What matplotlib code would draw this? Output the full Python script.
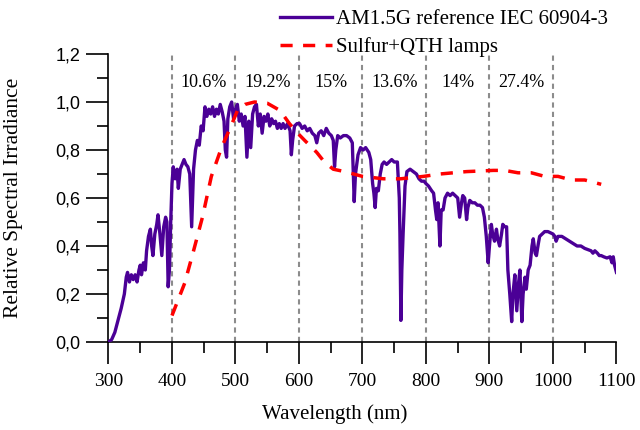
import matplotlib
matplotlib.use("Agg")
import matplotlib.pyplot as plt
from matplotlib.ticker import MultipleLocator, FuncFormatter

plt.rcParams['font.family'] = ['Liberation Serif', 'DejaVu Serif']

# AM1.5G reference spectrum (normalised)
am15_wl = [300, 305, 310, 315, 320, 325, 328, 330, 333, 336, 339, 342, 345, 348, 350,
           352, 355, 358, 360, 363, 366, 368, 370, 373, 376, 378, 381, 384, 387, 390,
           392, 394, 396, 398, 400, 402, 405, 408, 410, 413, 416, 419, 422, 425, 428,
           431, 434, 437, 440, 443, 446, 449, 452, 455, 458, 461, 464, 467, 470, 473,
           476, 479, 482, 484, 486, 488, 491, 494, 497, 500, 503, 506, 509, 512, 515,
           518, 521, 524, 527, 530, 533, 536, 539, 542, 545, 548, 551, 554, 557, 560,
           563, 566, 569, 572, 575, 578, 582, 586, 588, 590, 593, 597, 601, 605, 609,
           613, 617, 621, 625, 628, 631, 635, 639, 643, 647, 651, 654, 656, 658, 661,
           665, 670, 675, 680, 684, 687, 689, 693, 697, 701, 705, 710, 713, 716, 718,
           720, 722, 725, 728, 731, 734, 738, 742, 746, 750, 755, 758, 759, 760.5, 762,
           764, 767, 770, 775, 780, 785, 789, 793, 797, 800, 804, 809, 812, 815, 817,
           819, 822, 824, 827, 830, 834, 838, 842, 846, 850, 853, 856, 858, 861, 864,
           866, 869, 873, 877, 881, 885, 889, 892, 895, 898, 900, 903, 905, 908, 911,
           913, 916, 919, 921, 924, 927, 929, 932, 935, 937, 940, 943, 946, 948, 951,
           953, 956, 958, 961, 964, 967, 969, 972, 974, 977, 979, 983, 987, 992, 996,
           1000, 1003, 1005, 1008, 1014, 1020, 1026, 1032, 1038, 1044, 1050, 1055, 1060, 1063, 1066,
           1070, 1073, 1076, 1080, 1085, 1090, 1093, 1095, 1097, 1100]
am15_val = [0.0, 0.01, 0.04, 0.09, 0.14, 0.2, 0.27, 0.29, 0.25, 0.28, 0.26, 0.28, 0.25, 0.30, 0.32,
            0.28, 0.33, 0.30, 0.38, 0.44, 0.47, 0.40, 0.36, 0.45, 0.49, 0.53, 0.45, 0.36, 0.48, 0.52,
            0.50, 0.23, 0.30, 0.50, 0.66, 0.73, 0.68, 0.72, 0.64, 0.72, 0.74, 0.76, 0.74, 0.73, 0.70,
            0.48, 0.72, 0.80, 0.84, 0.82, 0.90, 0.88, 0.98, 0.94, 0.97, 0.95, 0.98, 0.94, 0.97, 0.95,
            0.99, 0.96, 0.92, 0.80, 0.77, 0.93, 0.98, 1.00, 0.93, 0.97, 0.99, 0.92, 0.95, 0.90, 0.94,
            0.77, 0.92, 0.81, 0.95, 0.98, 0.99, 0.90, 0.95, 0.87, 0.94, 0.92, 0.95, 0.90, 0.93, 0.91,
            0.92, 0.89, 0.91, 0.89, 0.91, 0.89, 0.91, 0.88, 0.78, 0.84, 0.90, 0.91, 0.91, 0.89, 0.90,
            0.88, 0.89, 0.87, 0.86, 0.83, 0.87, 0.88, 0.86, 0.89, 0.87, 0.86, 0.84, 0.73, 0.80, 0.86,
            0.85, 0.86, 0.86, 0.85, 0.83, 0.585, 0.70, 0.78, 0.81, 0.80, 0.81, 0.79, 0.76, 0.66, 0.62,
            0.56, 0.64, 0.63, 0.70, 0.74, 0.75, 0.74, 0.75, 0.76, 0.75, 0.75, 0.60, 0.45, 0.09, 0.30,
            0.45, 0.65, 0.71, 0.72, 0.71, 0.70, 0.68, 0.67, 0.67, 0.66, 0.65, 0.63, 0.62, 0.55, 0.51,
            0.58, 0.40, 0.55, 0.55, 0.60, 0.62, 0.61, 0.62, 0.61, 0.60, 0.52, 0.58, 0.61, 0.60, 0.51,
            0.56, 0.59, 0.58, 0.58, 0.57, 0.57, 0.56, 0.52, 0.44, 0.33, 0.40, 0.49, 0.45, 0.42, 0.47,
            0.43, 0.40, 0.45, 0.49, 0.48, 0.48, 0.30, 0.20, 0.085, 0.20, 0.28, 0.13, 0.25, 0.30, 0.085,
            0.20, 0.27, 0.22, 0.30, 0.32, 0.40, 0.43, 0.37, 0.36, 0.41, 0.44, 0.45, 0.46, 0.46, 0.455,
            0.45, 0.44, 0.42, 0.44, 0.44, 0.43, 0.42, 0.41, 0.40, 0.40, 0.39, 0.385, 0.38, 0.37, 0.38,
            0.37, 0.36, 0.36, 0.355, 0.35, 0.355, 0.33, 0.355, 0.32, 0.29]

# Sulfur + QTH lamp spectrum
lamp_wl = [400, 420, 434, 448, 462, 478, 493, 504, 515, 530, 550, 570, 585, 598, 609,
           628, 640, 654, 672, 700, 733, 760, 796, 822, 864, 906, 924, 945, 966, 987,
           1008, 1029, 1050, 1076]
lamp_val = [0.11, 0.245, 0.38, 0.52, 0.69, 0.81, 0.90, 0.97, 0.99, 1.0, 0.995, 0.965, 0.91, 0.87, 0.84,
            0.79, 0.75, 0.72, 0.71, 0.69, 0.68, 0.68, 0.69, 0.70, 0.71, 0.715, 0.715, 0.705, 0.705, 0.69,
            0.69, 0.675, 0.675, 0.657]

# band edges and share of each band
band_edges = [400, 500, 600, 700, 800, 900, 1000]
band_share = ['10.6%', '19.2%', '15%', '13.6%', '14%', '27.4%']

fig = plt.figure(figsize=(6.4, 4.3), dpi=100)
ax = fig.add_axes([0.1695, 0.2047, 0.7937, 0.6697])

for x in band_edges:
    ax.plot([x, x], [0, 1.2], color='#8c8c8c', lw=1.5, dashes=(2.5, 2), zorder=1)
for i, txt in enumerate(band_share):
    xc = (band_edges[i] + band_edges[i + 1]) / 2
    ax.text(xc, 1.08, txt, ha='center', va='center', fontsize=13)

ax.plot(am15_wl, am15_val, color='#4b0096', lw=2.4, label='AM1.5G reference IEC 60904-3', zorder=3)
ax.plot(lamp_wl, lamp_val, color='#ff0000', lw=2.5, dashes=(3.5, 3), label='Sulfur+QTH lamps', zorder=4)

ax.set_xlim(300, 1100)
ax.set_ylim(0, 1.2)
ax.xaxis.set_major_locator(MultipleLocator(100))
ax.xaxis.set_minor_locator(MultipleLocator(50))
ax.yaxis.set_major_locator(MultipleLocator(0.2))
ax.yaxis.set_minor_locator(MultipleLocator(0.1))
ax.yaxis.set_major_formatter(FuncFormatter(lambda v, p: f'{v:.1f}'.replace('.', ',')))

for s in ['top', 'right']:
    ax.spines[s].set_visible(False)
for s in ['left', 'bottom']:
    ax.spines[s].set_linewidth(1.2)
ax.tick_params(which='major', direction='out', length=16, width=1.2)
ax.tick_params(which='minor', direction='out', length=8, width=1.2)
ax.tick_params(axis='x', labelsize=14, pad=6)
ax.tick_params(axis='y', labelsize=13, pad=4)
for lbl in ax.get_yticklabels():
    lbl.set_fontfamily('Liberation Sans')

ax.set_xlabel('Wavelength (nm)', fontsize=15)
ax.set_ylabel('Relative Spectral Irradiance', fontsize=15.5)
ax.xaxis.set_label_coords(0.446, -0.215)
ax.yaxis.set_label_coords(-0.168, 0.5)

ax.legend(loc='upper left', bbox_to_anchor=(0.338, 1.155), frameon=False, fontsize=15,
          handlelength=2.5, handletextpad=0.2, labelspacing=0.4, borderpad=0, borderaxespad=0)

fig.savefig('out.png', dpi=100)
